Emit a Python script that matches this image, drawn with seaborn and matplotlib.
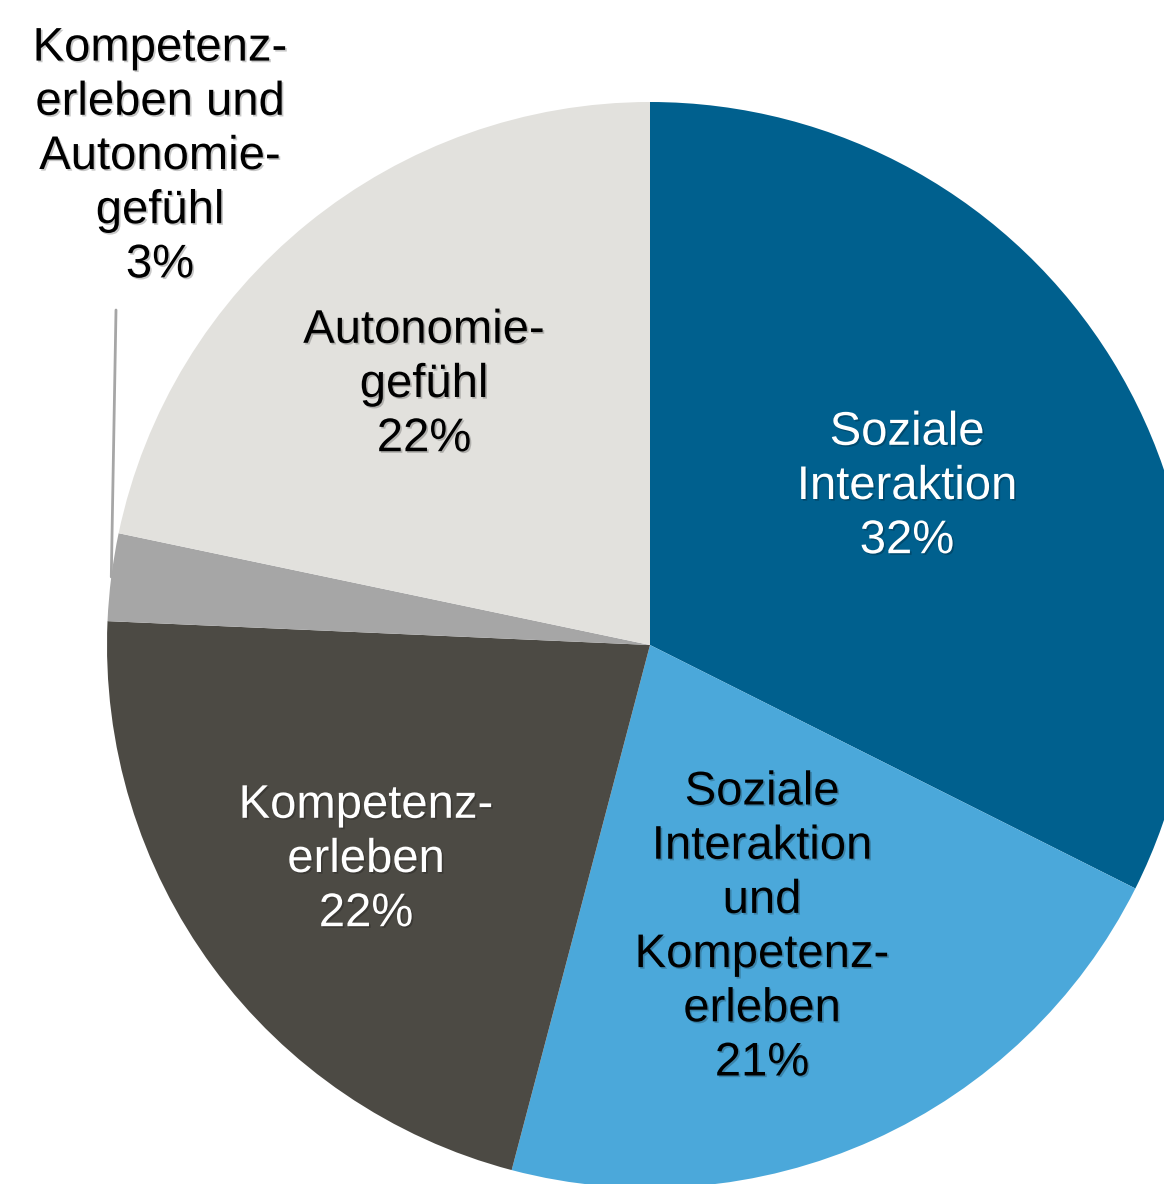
import numpy as np
import matplotlib
matplotlib.use("Agg")
import matplotlib.pyplot as plt
import matplotlib.patheffects as pe
import seaborn as sns

categories = [
    "Soziale\nInteraktion",
    "Soziale\nInteraktion\nund\nKompetenz-\nerleben",
    "Kompetenz-\nerleben",
    "Kompetenz-\nerleben und\nAutonomie-\ngefühl",
    "Autonomie-\ngefühl",
]
values = [32.4, 21.7, 21.6, 2.6, 21.7]
pct_labels = ["32%", "21%", "22%", "3%", "22%"]
colors = ["#00608E", "#4BA8DA", "#4C4A44", "#A6A6A6", "#E2E1DD"]
text_colors = ["white", "black", "white", "black", "black"]

sns.set_theme(style="white")
plt.rcParams["font.family"] = ["Liberation Sans", "DejaVu Sans"]

R = 543.0
CX, CY = 650.0, 645.0
W, H = 1164, 1184


def px(x, y):
    return (x - CX) / R, (CY - y) / R


fig = plt.figure(figsize=(W / 100, H / 100), dpi=100)
ax = fig.add_axes([0, 0, 1, 1])

wedges, _ = ax.pie(values, colors=colors, startangle=90, counterclock=False,
                   radius=1.0, center=(0, 0), frame=True,
                   wedgeprops=dict(linewidth=0))
ax.set_xlim(-CX / R, (W - CX) / R)
ax.set_ylim(-(H - CY) / R, CY / R)
ax.set_aspect("equal")
ax.axis("off")

shadow = [pe.SimplePatchShadow(offset=(1.2, -1.2), shadow_rgbFace="black", alpha=0.22), pe.Normal()]

# label anchor positions (pixel layout in the reference)
label_px = [(907, 487), (762, 928), (366, 860), (160, 157), (424, 385)]
for i, w in enumerate(wedges):
    txt = categories[i] + "\n" + pct_labels[i]
    x, y = px(*label_px[i])
    ax.text(x, y, txt, ha="center", va="center", fontsize=34,
            color=text_colors[i], linespacing=1.3, path_effects=shadow)
    if i == 3:
        mid = np.deg2rad((w.theta1 + w.theta2) / 2)
        ex, ey = np.cos(mid), np.sin(mid)
        sx, sy = px(116, 310)
        ax.plot([sx, ex], [sy, ey], color="#A6A6A6", linewidth=2)

fig.savefig("out.png", dpi=100, facecolor="white")
